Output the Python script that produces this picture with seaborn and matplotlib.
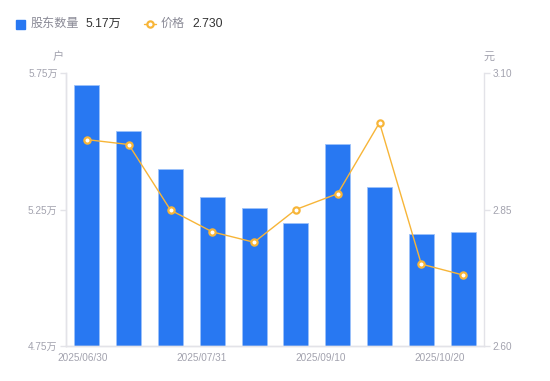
import matplotlib
matplotlib.use("Agg")
import matplotlib.pyplot as plt
import numpy as np
import pandas as pd
import seaborn as sns
from matplotlib.lines import Line2D

# data
dates = ["2025/06/30", "2025/07/10", "2025/07/18", "2025/07/31", "2025/08/15",
         "2025/08/29", "2025/09/10", "2025/09/19", "2025/09/30", "2025/10/20"]
holders = [5.705, 5.536, 5.398, 5.296, 5.254, 5.199, 5.489, 5.331, 5.159, 5.169]  # 万户
price = [2.978, 2.969, 2.849, 2.809, 2.790, 2.850, 2.879, 3.009, 2.750, 2.730]
shown_dates = ["2025/06/30", "2025/07/31", "2025/09/10", "2025/10/20"]
left_ticks = [4.75, 5.25, 5.75]
right_ticks = [2.60, 2.85, 3.10]

df = pd.DataFrame({"date": dates, "holders": holders, "price": price})
df["pos"] = np.arange(len(df))

sns.set_theme(style="white")
plt.rcParams["font.family"] = ["Liberation Sans", "Noto Sans CJK SC", "DejaVu Sans"]

BLUE = "#2878F2"
ORANGE = "#F7B538"
AXIS = "#E3E3E8"
TICK = "#A2A2AE"

fig = plt.figure(figsize=(5.5, 3.81), dpi=100)
ax = fig.add_axes([66 / 550, 1 - 346 / 381, 418 / 550, 273 / 381])

sns.barplot(data=df, x="pos", y="holders", color=BLUE, width=0.6, saturation=1,
            edgecolor="#9CC2FA", linewidth=0.6, ax=ax, native_scale=True)
ax.set_ylim(4.75, 5.75)
ax.set_xlim(-0.5, 9.5)
ax.set_yticks(left_ticks)
ax.set_yticklabels([f"{v:.2f}万" for v in left_ticks])

ax2 = ax.twinx()
sns.lineplot(data=df, x="pos", y="price", color=ORANGE, linewidth=1,
             marker="o", markersize=4.5, markerfacecolor="white",
             markeredgecolor=ORANGE, markeredgewidth=1.6, ax=ax2)
ax2.set_ylim(2.60, 3.10)
ax2.set_yticks(right_ticks)
ax2.set_yticklabels([f"{v:.2f}" for v in right_ticks])

for a in (ax, ax2):
    a.set_xlabel("")
    a.set_ylabel("")
    for s in a.spines.values():
        s.set_color(AXIS)
        s.set_linewidth(1)
    a.spines["top"].set_visible(False)
    a.tick_params(axis="y", colors=AXIS, labelcolor=TICK, labelsize=7.2,
                  length=4, width=1, pad=2)
ax.spines["right"].set_visible(False)
ax.tick_params(axis="y", left=True, right=False)
ax2.tick_params(axis="y", right=True, left=False)

# x labels, evenly spread like the source chart
ax.set_xticks(np.linspace(-0.1, 8.45, len(shown_dates)))
ax.set_xticklabels(shown_dates)
ax.tick_params(axis="x", length=0, labelcolor=TICK, labelsize=7.2, pad=5)

# unit labels
fig.text(58 / 550, 1 - 57 / 381, "户", ha="center", va="center", color=TICK, fontsize=8)
fig.text(489 / 550, 1 - 57 / 381, "元", ha="center", va="center", color=TICK, fontsize=8)

# legend row
fig.patches.append(plt.Rectangle((16 / 550, 1 - 29 / 381), 9 / 550, 9 / 381,
                                 transform=fig.transFigure, color=BLUE))
fig.text(31 / 550, 1 - 24 / 381, "股东数量", va="center", color="#8A8A96", fontsize=8.7)
fig.text(85 / 550, 1 - 24 / 381, f"{holders[-1]:.2f}万", va="center", color="#333333", fontsize=8.7)
fig.lines.append(Line2D([144 / 550, 156 / 550], [1 - 24 / 381, 1 - 24 / 381],
                        transform=fig.transFigure, color=ORANGE, linewidth=1))
fig.lines.append(Line2D([150 / 550], [1 - 24 / 381], transform=fig.transFigure,
                        color=ORANGE, marker="o", markersize=4.5, markerfacecolor="white",
                        markeredgewidth=1.6, linestyle="none"))
fig.text(161 / 550, 1 - 24 / 381, "价格", va="center", color="#8A8A96", fontsize=8.7)
fig.text(192 / 550, 1 - 24 / 381, f"{price[-1]:.3f}", va="center", color="#333333", fontsize=8.7)

fig.savefig("out.png", dpi=100)
